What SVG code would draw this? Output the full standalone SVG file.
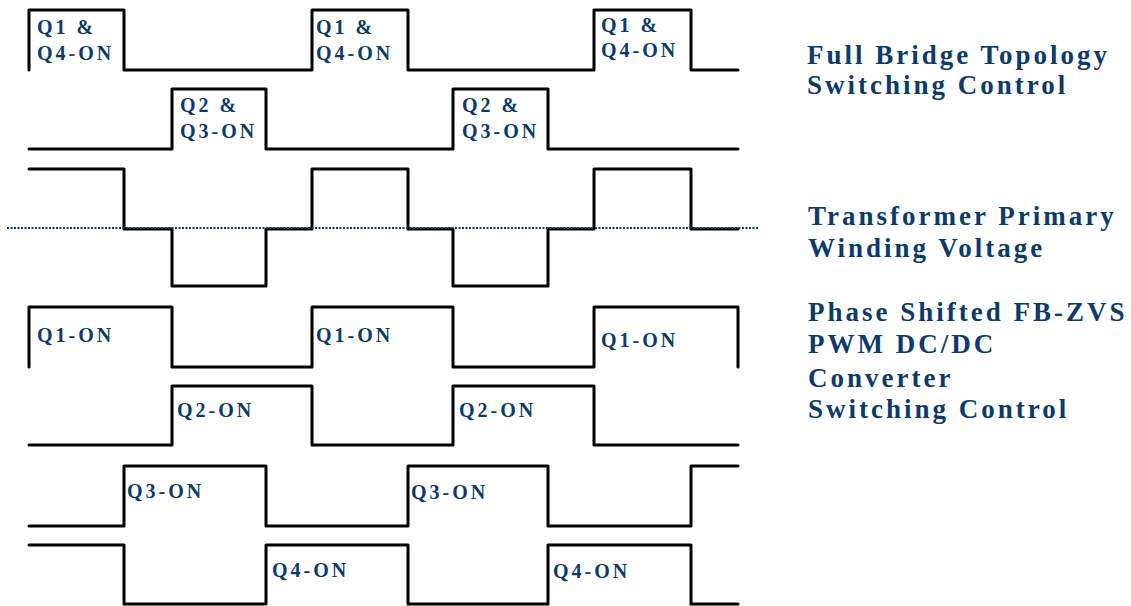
<svg xmlns="http://www.w3.org/2000/svg" width="1131" height="606" viewBox="0 0 1131 606">
<style>
.w{fill:none;stroke:#000;stroke-width:3;stroke-linejoin:round;stroke-linecap:round}
.l{font-family:"Liberation Serif","Times New Roman",serif;font-weight:bold;font-size:20px;letter-spacing:3px;fill:#0b3a6c}
.t{font-family:"Liberation Serif","Times New Roman",serif;font-weight:bold;font-size:27px;letter-spacing:3px;fill:#0b3a6c}
.ref{fill:none;stroke:#0b3a6c;stroke-width:2;stroke-dasharray:2 1.5}
</style>
<rect width="1131" height="606" fill="#fff"/>
<g id="wave-q1q4">
<path class="w" d="M29,70 V10 H124 V70 H312 V10 H408 V70 H594 V10 H691 V70 H738"/>
<text class="l" x="37" y="34">Q1 &amp;</text><text class="l" x="37" y="60">Q4-ON</text>
<text class="l" x="316" y="34">Q1 &amp;</text><text class="l" x="316" y="60">Q4-ON</text>
<text class="l" x="601" y="32">Q1 &amp;</text><text class="l" x="601" y="57">Q4-ON</text>
</g>
<g id="wave-q2q3">
<path class="w" d="M29,149 H172 V89 H266 V149 H453 V89 H548 V149 H738"/>
<text class="l" x="180" y="112">Q2 &amp;</text><text class="l" x="180" y="138">Q3-ON</text>
<text class="l" x="462" y="112">Q2 &amp;</text><text class="l" x="462" y="138">Q3-ON</text>
</g>
<g id="wave-primary">
<path class="w" d="M29,169 H124 V229 H172 V286 H266 V229 H312 V169 H408 V229 H453 V286 H548 V229 H594 V169 H691 V229 H738"/>
</g>
<g id="connectors">
<line class="ref" x1="7" y1="228" x2="759" y2="228"/>
</g>
<g id="wave-q1">
<path class="w" d="M29,367 V307 H172 V367 H312 V307 H453 V367 H594 V307 H738 V367"/>
<text class="l" x="37" y="342">Q1-ON</text>
<text class="l" x="316" y="342">Q1-ON</text>
<text class="l" x="601" y="347">Q1-ON</text>
</g>
<g id="wave-q2">
<path class="w" d="M29,445 H172 V386 H312 V445 H453 V386 H594 V445 H738"/>
<text class="l" x="177" y="417">Q2-ON</text>
<text class="l" x="459" y="417">Q2-ON</text>
</g>
<g id="wave-q3">
<path class="w" d="M29,526 H124 V466 H266 V526 H408 V466 H548 V526 H691 V466 H738"/>
<text class="l" x="127" y="498">Q3-ON</text>
<text class="l" x="411" y="499">Q3-ON</text>
</g>
<g id="wave-q4">
<path class="w" d="M29,545 H124 V604 H266 V545 H408 V604 H548 V545 H691 V604 H738"/>
<text class="l" x="272" y="577">Q4-ON</text>
<text class="l" x="553" y="578">Q4-ON</text>
</g>
<g id="title-fullbridge">
<text class="t" x="807" y="64">Full Bridge Topology</text>
<text class="t" x="807" y="94">Switching Control</text>
</g>
<g id="title-transformer">
<text class="t" x="808" y="225">Transformer Primary</text>
<text class="t" x="808" y="257">Winding Voltage</text>
</g>
<g id="title-phaseshift">
<text class="t" x="808" y="321">Phase Shifted FB-ZVS</text>
<text class="t" x="808" y="353">PWM DC/DC</text>
<text class="t" x="808" y="387">Converter</text>
<text class="t" x="808" y="418">Switching Control</text>
</g>
</svg>
